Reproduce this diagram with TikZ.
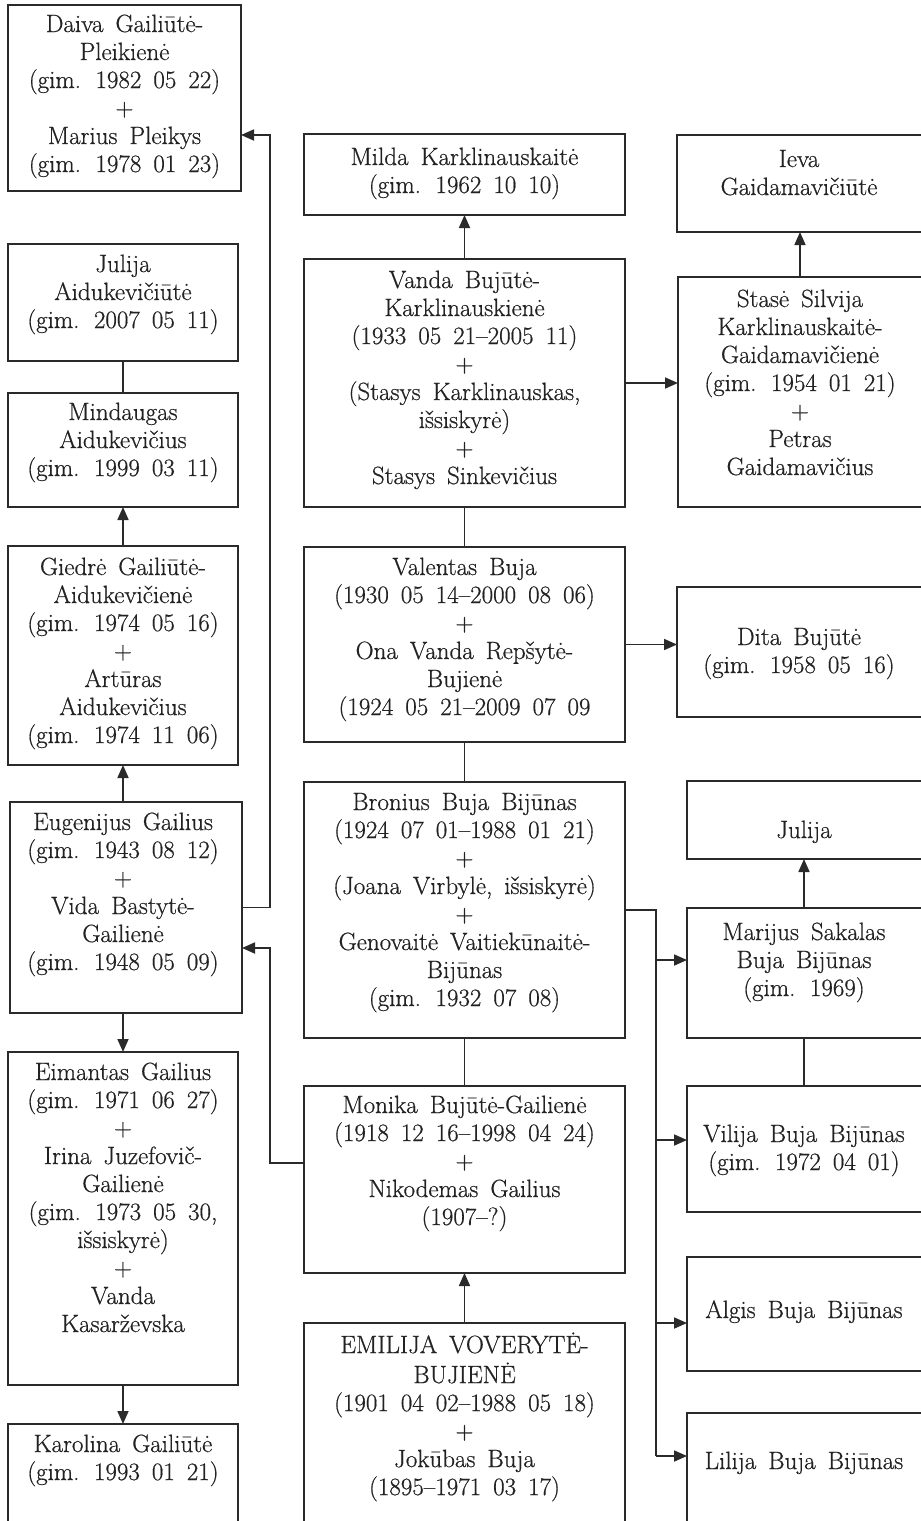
\documentclass[tikz,border=0pt]{standalone}
\usepackage{fontspec}
\setmainfont{Latin Modern Roman}[FakeBold=0.6]
\usetikzlibrary{arrows.meta}
\definecolor{ink}{HTML}{222222}
\definecolor{rule}{HTML}{2A2A2A}
\tikzset{
  famrect/.style={draw=rule, line width=1.8pt, inner sep=0pt, outer sep=0pt, fill=none},
  famtext/.style={text=ink, align=center, inner sep=0pt, outer sep=0pt,
    font={\fontsize{25}{28}\selectfont\spaceskip=0.48em plus 0.1em minus 0.05em}},
  conn/.style={draw=rule, line width=1.7pt},
  arr/.style={conn, -{Triangle[length=13pt,width=11pt]}}
}
% name, x1, y1, x2, y2, text-centre x, first-line centre y, text
\newcommand\famnode[8]{%
  \node[famrect, anchor=north west, minimum width={(#4-#2)*1pt}, minimum height={(#5-#3)*1pt}] (#1) at (#2,#3) {};
  \node[famtext, anchor=north] (#1-t) at (#6,{#7-14.6}) {\strut #8};
}
\begin{document}
\begin{tikzpicture}[x=1pt,y=-1pt]
\useasboundingbox (0,0) rectangle (921,1521);
\fill[white] (0,0) rectangle (921,1521);
\clip (0,0) rectangle (921,1521);

% left column
\famnode{daiva}{8}{5}{241}{191}{124.5}{27}{Daiva Gailiūtė-\\Pleikienė\\(gim. 1982 05 22)\\+\\Marius Pleikys\\(gim. 1978 01 23)}
\famnode{julijaA}{8}{244}{238}{361}{123}{267}{Julija\\Aidukevičiūtė\\(gim. 2007 05 11)}
\famnode{mind}{8}{393}{238}{507}{123}{415}{Mindaugas\\Aidukevičius\\(gim. 1999 03 11)}
\famnode{giedre}{8}{546}{238}{765}{123}{570}{Giedrė Gailiūtė-\\Aidukevičienė\\(gim. 1974 05 16)\\+\\Artūras\\Aidukevičius\\(gim. 1974 11 06)}
\famnode{eug}{10}{802}{242}{1013}{123}{825}{Eugenijus Gailius\\(gim. 1943 08 12)\\+\\Vida Bastytė-\\Gailienė\\(gim. 1948 05 09)}
\famnode{eim}{8}{1052}{238}{1385}{123}{1075}{Eimantas Gailius\\(gim. 1971 06 27)\\+\\Irina Juzefovič-\\Gailienė\\(gim. 1973 05 30,\\išsiskyrė)\\+\\Vanda\\Kasarževska}
\famnode{karol}{8}{1424}{238}{1545}{123}{1447}{Karolina Gailiūtė\\(gim. 1993 01 21)}

% middle column
\famnode{milda}{304}{134}{625}{215}{464.5}{160}{Milda Karklinauskaitė\\(gim. 1962 10 10)}
\famnode{vanda}{304}{259}{625}{507}{464.5}{283}{Vanda Bujūtė-\\Karklinauskienė\\(1933 05 21–2005 11)\\+\\(Stasys Karklinauskas,\\išsiskyrė)\\+\\Stasys Sinkevičius}
\famnode{valent}{304}{547}{625}{742}{464.5}{570}{Valentas Buja\\(1930 05 14–2000 08 06)\\+\\Ona Vanda Repšytė-\\Bujienė\\(1924 05 21–2009 07 09}
\famnode{bron}{304}{782}{625}{1038}{464.5}{805}{Bronius Buja Bijūnas\\(1924 07 01–1988 01 21)\\+\\(Joana Virbylė, išsiskyrė)\\+\\Genovaitė Vaitiekūnaitė-\\Bijūnas\\(gim. 1932 07 08)}
\famnode{monika}{304}{1086}{625}{1273}{464.5}{1108}{Monika Bujūtė-Gailienė\\(1918 12 16–1998 04 24)\\+\\Nikodemas Gailius\\(1907–?)}
\famnode{emil}{304}{1323}{625}{1545}{464.5}{1347}{EMILIJA VOVERYTĖ-\\BUJIENĖ\\(1901 04 02–1988 05 18)\\+\\Jokūbas Buja\\(1895–1971 03 17)}

% right column
\famnode{ieva}{677}{135}{935}{232}{799}{162}{Ieva\\Gaidamavičiūtė}
\famnode{stase}{678}{277}{935}{507}{800}{302}{Stasė Silvija\\Karklinauskaitė-\\Gaidamavičienė\\(gim. 1954 01 21)\\+\\Petras\\Gaidamavičius}
\famnode{dita}{677}{587}{935}{717}{799}{640}{Dita Bujūtė\\(gim. 1958 05 16)}
\famnode{julija}{687}{781}{935}{859}{804}{833}{Julija}
\famnode{marij}{687}{908}{935}{1038}{804}{935}{Marijus Sakalas\\Buja Bijūnas\\(gim. 1969)}
\famnode{vilija}{687}{1086}{935}{1212}{804}{1137}{Vilija Buja Bijūnas\\(gim. 1972 04 01)}
\famnode{algis}{687}{1257}{935}{1371}{804}{1313}{Algis Buja Bijūnas}
\famnode{lilija}{687}{1413}{935}{1545}{804}{1464}{Lilija Buja Bijūnas}

% helper coordinates
\coordinate (vx) at (270,0);
\coordinate (bx) at (656,0);
\path (daiva.north east) ++(0,130) coordinate (daivin);
\path (eug.north east) ++(0,146) coordinate (eugin);
\path (monika.north west) ++(0,77) coordinate (monin);
\path (marij.north west) ++(0,52) coordinate (marin);
\path (vilija.north west) ++(0,54) coordinate (vilin);
\path (algis.north west) ++(0,66) coordinate (algin);
\path (lilija.north west) ++(0,43) coordinate (lilin);

% middle column connectors
\draw[arr] (vanda.north) -- (vanda.north |- milda.south);
\draw[arr] (vanda.east) -- (vanda.east -| stase.west);
\draw[arr] (stase-t |- stase.north) -- (stase-t |- ieva.south);
\draw[conn] (vanda.south) -- (vanda.south |- valent.north);
\draw[arr] (valent.east) -- (valent.east -| dita.west);
\draw[conn] (valent.south) -- (valent.south |- bron.north);
\draw[conn] (bron.south) -- (bron.south |- monika.north);
\draw[arr] (emil.north) -- (emil.north |- monika.south);

% bus to the right column
\draw[conn] (bron.east) -- (bron.east -| bx) -- (bx |- lilin);
\draw[arr] (bx |- marin) -- (marin);
\draw[arr] (bx |- vilin) -- (vilin);
\draw[arr] (bx |- algin) -- (algin);
\draw[arr] (bx |- lilin) -- (lilin);
\draw[arr] (marij-t |- marij.north) -- (marij-t |- julija.south);
\draw[conn] (marij-t |- marij.south) -- (marij-t |- vilija.north);

% left column connectors
\draw[conn] (mind.north) -- (mind.north |- julijaA.south);
\draw[arr] (giedre.north) -- (giedre.north |- mind.south);
\draw[arr] (eug-t |- eug.north) -- (eug-t |- giedre.south);
\draw[arr] (eug-t |- eug.south) -- (eug-t |- eim.north);
\draw[arr] (eim.south) -- (eim.south |- karol.north);
\draw[arr] (eug.east) -- (eug.east -| vx) -- (vx |- daivin) -- (daivin);
\draw[arr] (monin) -- (monin -| vx) -- (vx |- eugin) -- (eugin);
\end{tikzpicture}
\end{document}
